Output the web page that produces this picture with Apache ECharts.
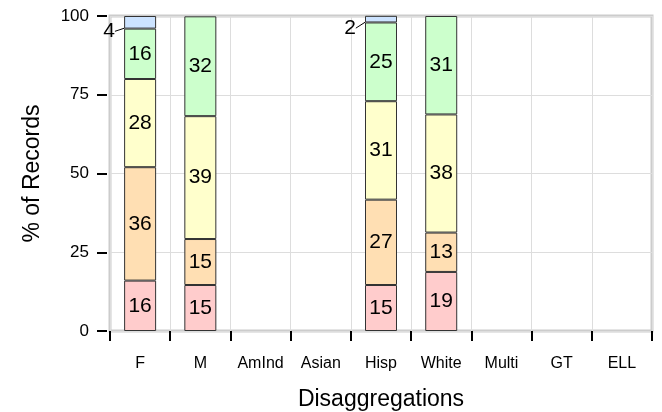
<!DOCTYPE html>
<html>
<head>
<meta charset="utf-8">
<script src="https://cdn.jsdelivr.net/npm/echarts@6/dist/echarts.min.js"></script>
<style>
html, body { margin: 0; padding: 0; background: #fff; }
#chart { width: 662px; height: 412px; }
</style>
</head>
<body>
<div id="chart"></div>
<script>
var categories = ["F", "M", "AmInd", "Asian", "Hisp", "White", "Multi", "GT", "ELL"];
var yTicks = [0, 25, 50, 75, 100];

// percent of records per level, bottom to top
var level1 = [16, 14.6, null, null, 14.6, 18.75, null, null, null];
var level2 = [36, 14.6, null, null, 27.1, 12.5, null, null, null];
var level3 = [28, 39.0, null, null, 31.25, 37.5, null, null, null];
var level4 = [16, 31.7, null, null, 25, 31.25, null, null, null];
var level5 = [4, null, null, null, 2.1, null, null, null, null];

var levels = [level1, level2, level3, level4, level5];
var colors = ["#ffcccc", "#ffdfb3", "#ffffcc", "#ccffcc", "#cce3ff"];

var fontFam = "Liberation Sans, Arial, sans-serif";

var series = levels.map(function (vals, i) {
  var s = {
    type: "bar",
    stack: "all",
    data: vals,
    barWidth: 32,
    itemStyle: {
      color: colors[i],
      borderColor: "#333",
      borderWidth: 1
    },
    label: {
      show: true,
      position: "inside",
      color: "#000",
      fontFamily: fontFam,
      fontSize: 21,
      formatter: function (p) {
        return Math.round(p.value);
      }
    }
  };
  if (i === 4) {
    // tiny top slices get their label pushed out to the left
    s.labelLayout = { dx: -31, dy: 9 };
    s.labelLine = { show: true, lineStyle: { color: "#000", width: 1 } };
  }
  return s;
});

var chart = echarts.init(document.getElementById("chart"));
var option = {
  animation: false,
  grid: {
    left: 110,
    right: 10,
    top: 16,
    bottom: 81,
    show: true,
    outerBoundsMode: "none",
    containLabel: false,
    borderColor: "#cccccc",
    borderWidth: 3
  },
  xAxis: {
    type: "category",
    data: categories,
    offset: 3,
    name: "Disaggregations",
    nameLocation: "middle",
    nameGap: 54,
    nameTextStyle: { color: "#000", fontSize: 23, fontFamily: fontFam },
    axisLine: { show: false },
    axisTick: { show: true, length: 10, lineStyle: { color: "#000", width: 2 } },
    axisLabel: { color: "#000", fontSize: 16, fontFamily: fontFam, margin: 22, interval: 0 },
    splitLine: { show: true, lineStyle: { color: "#dddddd", width: 1 } }
  },
  yAxis: {
    type: "value",
    min: 0,
    max: 100,
    interval: 25,
    offset: 3,
    name: "% of Records",
    nameLocation: "middle",
    nameGap: 63,
    nameTextStyle: { color: "#000", fontSize: 23, fontFamily: fontFam },
    axisLine: { show: false },
    axisTick: { show: true, length: 10, lineStyle: { color: "#000", width: 2 } },
    axisLabel: {
      color: "#000",
      fontSize: 17,
      fontFamily: fontFam,
      margin: 18,
      formatter: function (v) { return yTicks.indexOf(v) >= 0 ? v : ""; }
    },
    splitLine: { show: true, lineStyle: { color: "#dddddd", width: 1 } }
  },
  series: series
};
chart.setOption(option);
</script>
</body>
</html>
